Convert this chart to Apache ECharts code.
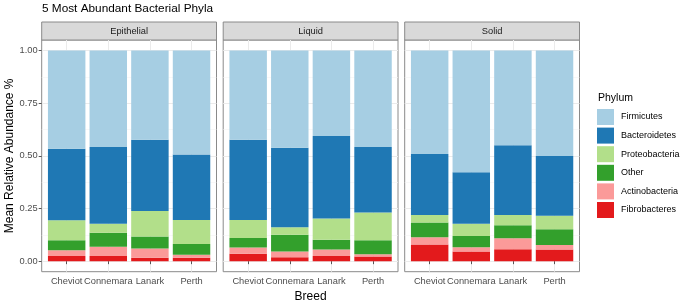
<!DOCTYPE html>
<html>
<head>
<meta charset="utf-8">
<script src="https://cdn.jsdelivr.net/npm/echarts@6/dist/echarts.min.js"></script>
<style>
  html, body { margin: 0; padding: 0; background: #fff; }
  #chart { width: 685px; height: 301px; }
</style>
</head>
<body>
<div id="chart"></div>
<script>
// breeds on the x axis of every facet
var breeds = ['Cheviot', 'Connemara', 'Lanark', 'Perth'];
var facets = ['Epithelial', 'Liquid', 'Solid'];
// stacking order, bottom to top
var phyla = ['Fibrobacteres', 'Actinobacteria', 'Other', 'Proteobacteria', 'Bacteroidetes', 'Firmicutes'];
var legendOrder = ['Firmicutes', 'Bacteroidetes', 'Proteobacteria', 'Other', 'Actinobacteria', 'Fibrobacteres'];
var phylaColors = {
	Firmicutes: '#A6CEE3',
	Bacteroidetes: '#1F78B4',
	Proteobacteria: '#B2DF8A',
	Other: '#33A02C',
	Actinobacteria: '#FB9A99',
	Fibrobacteres: '#E31A1C'
};
var yTicks = [0, 0.25, 0.5, 0.75, 1];
var yMinorTicks = [0.125, 0.375, 0.625, 0.875];

// one row per phylum (same order as phyla), one column per breed
var epithelialValues = [
	[0.024, 0.024, 0.016, 0.016],
	[0.028, 0.045, 0.044, 0.014],
	[0.047, 0.066, 0.057, 0.052],
	[0.095, 0.043, 0.121, 0.113],
	[0.340, 0.364, 0.338, 0.311],
	[0.466, 0.458, 0.424, 0.494]
];
var liquidValues = [
	[0.035, 0.019, 0.025, 0.022],
	[0.030, 0.027, 0.030, 0.011],
	[0.045, 0.080, 0.047, 0.066],
	[0.085, 0.035, 0.101, 0.132],
	[0.381, 0.378, 0.391, 0.311],
	[0.424, 0.461, 0.406, 0.458]
];
var solidValues = [
	[0.079, 0.046, 0.057, 0.055],
	[0.034, 0.020, 0.052, 0.022],
	[0.070, 0.054, 0.061, 0.074],
	[0.036, 0.058, 0.049, 0.065],
	[0.290, 0.244, 0.331, 0.283],
	[0.491, 0.578, 0.450, 0.501]
];
var facetValues = [epithelialValues, liquidValues, solidValues];

var panelLefts = [41.7, 223.2, 404.7];
var panelWidth = 174.8;
var panelTop = 40;
var panelHeight = 231.7;
var stripTop = 22;
var unit = panelWidth / 4.2;   // discrete scale expanded by 0.6 on each side
var fontFamily = '"Liberation Sans", Arial, sans-serif';

var myChart = echarts.init(document.getElementById('chart'), null, { renderer: 'canvas' });

var grids = [], xAxes = [], yAxes = [], series = [], graphics = [];

facets.forEach(function(facet, f) {
	// panel grid: background, border, grid lines, ticks and labels
	grids.push({
		left: panelLefts[f], top: panelTop, width: panelWidth, height: panelHeight,
		outerBoundsMode: 'none', containLabel: false,
		show: true, backgroundColor: '#fff', borderColor: '#8a8a8a', borderWidth: 1
	});
	// bar grid: category bands lined up with the panel's discrete positions
	grids.push({
		left: panelLefts[f] + unit * 0.1, top: panelTop, width: unit * 4, height: panelHeight,
		outerBoundsMode: 'none', containLabel: false
	});

	xAxes.push({
		type: 'value', gridIndex: f * 2, min: 0.4, max: 4.6,
		name: f === 1 ? 'Breed' : '', nameLocation: 'middle', nameGap: 17,
		nameTextStyle: { fontSize: 12, color: '#000', fontFamily: fontFamily },
		axisLine: { show: false },
		axisTick: { show: true, customValues: [1, 2, 3, 4], length: 3, lineStyle: { color: '#555' } },
		axisLabel: {
			customValues: [1, 2, 3, 4], margin: 5, fontSize: 9.3, color: '#4D4D4D', fontFamily: fontFamily,
			formatter: function(v) { return breeds[Math.round(v) - 1]; }
		},
		splitLine: { show: true, lineStyle: { color: '#EBEBEB', width: 1 } }
	});
	xAxes.push({
		type: 'category', gridIndex: f * 2 + 1, data: breeds,
		axisLine: { show: false }, axisTick: { show: false }, axisLabel: { show: false }, splitLine: { show: false }
	});

	// major y axis of the panel
	yAxes.push({
		type: 'value', gridIndex: f * 2, min: -0.05, max: 1.05,
		name: f === 0 ? 'Mean Relative Abundance %' : '', nameLocation: 'middle', nameGap: 25,
		nameTextStyle: { fontSize: 12, color: '#000', fontFamily: fontFamily },
		axisLine: { show: false },
		axisTick: { show: f === 0, customValues: yTicks, length: 3, lineStyle: { color: '#555' } },
		axisLabel: {
			show: f === 0, customValues: yTicks, margin: 4, fontSize: 9.3, color: '#4D4D4D', fontFamily: fontFamily,
			formatter: function(v) { return v.toFixed(2); }
		},
		splitLine: { show: true, lineStyle: { color: '#EBEBEB', width: 1 } }
	});
	// minor grid lines only
	yAxes.push({
		type: 'value', gridIndex: f * 2, min: -0.05, max: 1.05, position: 'right',
		axisLine: { show: false },
		axisTick: { show: false, customValues: yMinorTicks },
		axisLabel: { show: false, customValues: yMinorTicks },
		splitLine: { show: true, lineStyle: { color: '#F4F4F4', width: 0.6 } }
	});
	// y axis of the bar grid, same range
	yAxes.push({
		type: 'value', gridIndex: f * 2 + 1, min: -0.05, max: 1.05,
		axisLine: { show: false }, axisTick: { show: false }, axisLabel: { show: false }, splitLine: { show: false }
	});

	phyla.forEach(function(phylum, p) {
		series.push({
			name: phylum,
			type: 'bar',
			xAxisIndex: f * 2 + 1,
			yAxisIndex: f * 3 + 2,
			stack: facet,
			barWidth: '90%',
			itemStyle: { color: phylaColors[phylum] },
			emphasis: { disabled: true },
			data: facetValues[f][p]
		});
	});

	// facet strip
	graphics.push({
		type: 'rect',
		shape: { x: panelLefts[f], y: stripTop, width: panelWidth, height: panelTop - stripTop },
		style: { fill: '#D9D9D9', stroke: '#8a8a8a', lineWidth: 1 }
	});
	graphics.push({
		type: 'text',
		x: panelLefts[f] + panelWidth / 2, y: (stripTop + panelTop) / 2,
		style: { text: facet, fill: '#1A1A1A', fontSize: 9.3, fontFamily: fontFamily, align: 'center', verticalAlign: 'middle' }
	});
});

var option = {
	animation: false,
	title: [
		{ text: '5 Most Abundant Bacterial Phyla', left: 42, top: 3, padding: 0,
		  textStyle: { fontSize: 11.8, fontWeight: 'normal', color: '#000', fontFamily: fontFamily } },
		{ text: 'Phylum', left: 598, top: 93, padding: 0,
		  textStyle: { fontSize: 10.5, fontWeight: 'normal', color: '#000', fontFamily: fontFamily } }
	],
	legend: {
		data: legendOrder,
		orient: 'vertical',
		left: 597, top: 109,
		padding: 0,
		icon: 'rect',
		itemWidth: 17, itemHeight: 16, itemGap: 2.6,
		selectedMode: false,
		textStyle: { fontSize: 9, color: '#000', fontFamily: fontFamily, padding: [0, 0, 0, 2] }
	},
	grid: grids,
	xAxis: xAxes,
	yAxis: yAxes,
	graphic: graphics,
	series: series
};
myChart.setOption(option);
</script>
</body>
</html>
